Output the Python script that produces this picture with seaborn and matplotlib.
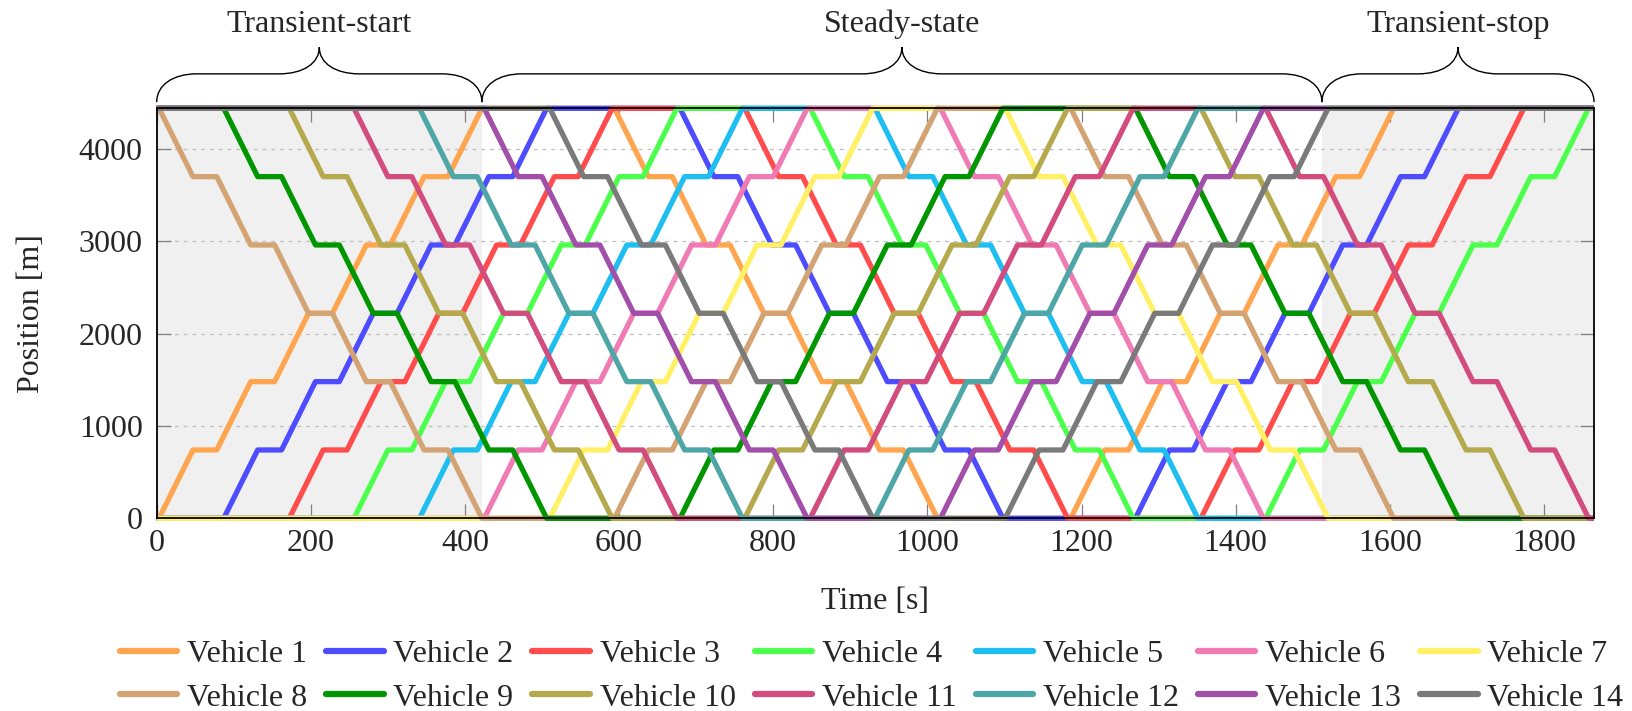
import matplotlib
matplotlib.use('Agg')
import matplotlib.pyplot as plt
import seaborn as sns
import pandas as pd
from matplotlib.path import Path
from matplotlib.patches import PathPatch
from matplotlib.lines import Line2D
from matplotlib.transforms import blended_transform_factory

# stations along the line [m]
stations = [0, 740, 1480, 2220, 2960, 3700, 4440]
run_time = 44      # s between two stations
dwell_time = 31    # s stopped at a station

# departures from the terminals (same clock for both ends)
depart_times = [3, 87, 172, 256, 341, 425, 510, 594, 679, 763, 848, 932,
                1017, 1101, 1186, 1270, 1355, 1439]
bottom_order = [1, 2, 3, 4, 5, 6, 7, 8, 9, 10, 11, 12, 13, 14, 1, 2, 3, 4]
top_order = [8, 9, 10, 11, 12, 13, 14, 1, 2, 3, 4, 5, 6, 7, 8, 9, 10, 11]
t_end = 1865

phases = ['Transient-start', 'Steady-state', 'Transient-stop']
phase_bounds = [0, 422, 1512, 1865]

vehicles = [f'Vehicle {i}' for i in range(1, 15)]
colors = ['#FFA54F', '#4D4DFF', '#FF4D4D', '#4DFF4D', '#1EBEF0', '#F07AB4', '#FFF066',
          '#D4A373', '#009600', '#B5A94D', '#D24D7D', '#4FA6A6', '#A24FAA', '#7A7A7A']

# build trajectories from the timetable
rows = []
for v in range(1, 15):
    trips = [(t, stations) for t, b in zip(depart_times, bottom_order) if b == v]
    trips += [(t, stations[::-1]) for t, b in zip(depart_times, top_order) if b == v]
    trips.sort(key=lambda x: x[0])
    name = vehicles[v - 1]
    rows.append((name, 0, trips[0][1][0]))
    for t0, path in trips:
        tt = t0
        rows.append((name, tt, path[0]))
        for i, s in enumerate(path[1:]):
            tt += run_time
            rows.append((name, tt, s))
            if i < len(path) - 2:
                tt += dwell_time
                rows.append((name, tt, s))
    rows.append((name, t_end, trips[-1][1][-1]))
df = pd.DataFrame(rows, columns=['vehicle', 'time', 'position'])

sns.set_style('ticks')
plt.rcParams['font.family'] = ['Liberation Serif', 'DejaVu Serif']
fs = 23

fig = plt.figure(figsize=(16.32, 7.11), dpi=100)
ax = fig.add_axes([156.7 / 1632, 1 - 518.3 / 711, (1594 - 156.7) / 1632, 410 / 711])

for a, b in [(phase_bounds[0], phase_bounds[1]), (phase_bounds[2], phase_bounds[3])]:
    ax.axvspan(a, b, color='#f0f0f0', zorder=0, lw=0)

sns.lineplot(data=df, x='time', y='position', hue='vehicle', hue_order=vehicles,
             palette=colors, sort=False, estimator=None, legend=False,
             linewidth=3.8, solid_joinstyle='round', solid_capstyle='butt', ax=ax, zorder=3)
for ln in ax.lines:
    ln.set_clip_on(False)

ax.set_xlim(0, t_end)
ax.set_ylim(0, 4440)
ax.set_xticks(range(0, 1801, 200))
ax.set_yticks(range(0, 4001, 1000))
ax.yaxis.grid(True, linestyle=(0, (3, 4)), color='#bdbdbd', linewidth=0.9)
ax.set_axisbelow(True)
ax.tick_params(direction='in', length=10, width=0.9, color='#808080',
               top=True, right=True, labelsize=fs)
ax.tick_params(axis='x', pad=8)
ax.tick_params(axis='y', pad=10)
for sp in ax.spines.values():
    sp.set_linewidth(1.3)
    sp.set_color('black')
    sp.set_zorder(5)

ax.set_xlabel('Time [s]', fontsize=fs)
ax.set_ylabel('Position [m]', fontsize=fs)
ax.xaxis.set_label_coords(0.5, -0.168)
ax.yaxis.set_label_coords(-0.077, 0.5)

# curly braces above the plot
trans = blended_transform_factory(ax.transData, ax.transAxes)
y0, y1, y2 = 1.015, 1.084, 1.149
w = 52
for label, x0, x1 in zip(phases, phase_bounds[:-1], phase_bounds[1:]):
    xm = (x0 + x1) / 2
    verts = [(x0, y0),
             (x0, y0 + 0.6 * (y1 - y0)), (x0 + 0.4 * w, y1), (x0 + w, y1),
             (xm - w, y1),
             (xm - 0.4 * w, y1), (xm, y2 - 0.6 * (y2 - y1)), (xm, y2),
             (xm, y2 - 0.6 * (y2 - y1)), (xm + 0.4 * w, y1), (xm + w, y1),
             (x1 - w, y1),
             (x1 - 0.4 * w, y1), (x1, y0 + 0.6 * (y1 - y0)), (x1, y0)]
    codes = [Path.MOVETO] + [Path.CURVE4] * 3 + [Path.LINETO] + [Path.CURVE4] * 6 + \
            [Path.LINETO] + [Path.CURVE4] * 3
    ax.add_patch(PathPatch(Path(verts, codes), transform=trans, fill=False,
                           lw=1.0, color='black', clip_on=False))
    ax.text(xm, 1.186, label, transform=trans, ha='center', va='baseline', fontsize=fs)

# legend: 2 rows of 7, filled row-wise
handles = [Line2D([], [], color=c, lw=4.5) for c in colors]
order = [i + 7 * r for i in range(7) for r in range(2)]
fig.legend([handles[i] for i in order], [vehicles[i] for i in order],
           loc='center', bbox_to_anchor=(0.534, 1 - 676 / 711), ncol=7, frameon=False,
           fontsize=fs, handlelength=1.8, handletextpad=0.3, columnspacing=0.6,
           labelspacing=0.45, borderaxespad=0)

fig.savefig('out.png', dpi=100)
